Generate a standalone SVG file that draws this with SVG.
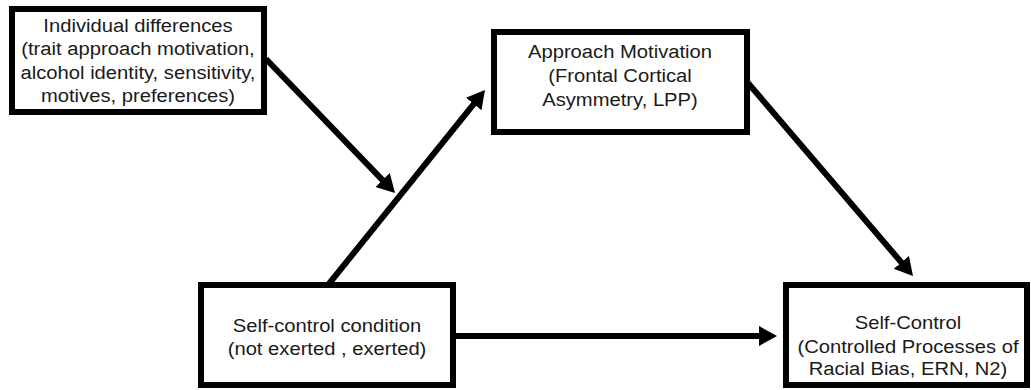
<svg xmlns="http://www.w3.org/2000/svg" width="1031" height="390" viewBox="0 0 1031 390">
  <style>
    .box { fill: #ffffff; stroke: #000000; stroke-width: 6; }
    .lbl { font-family: "Liberation Sans", Arial, sans-serif; font-size: 18.8px; fill: #1a1a1a; text-anchor: middle; }
    .conn { stroke: #000000; stroke-width: 6; fill: none; marker-end: url(#arrow); }
  </style>
  <defs>
    <marker id="arrow" markerUnits="userSpaceOnUse" markerWidth="20" markerHeight="22" refX="8" refY="10" orient="auto" viewBox="0 0 20 22">
      <path d="M0,0 L18,10 L0,20 Z" fill="#000000"/>
    </marker>
  </defs>
  <rect width="1031" height="390" fill="#ffffff"/>

  <g id="connectors">
    <line class="conn" x1="266" y1="59" x2="388.1" y2="185.8"/>
    <line class="conn" x1="328" y1="285" x2="478.7" y2="97.8"/>
    <line class="conn" x1="748" y1="83" x2="906.5" y2="268.4"/>
    <line class="conn" x1="456" y1="336" x2="767" y2="336"/>
  </g>

  <g id="node-individual-differences">
    <rect class="box" x="12" y="9" width="252" height="103"/>
    <g transform="translate(138,0) scale(1.075,1)">
      <text class="lbl" x="0" y="32">Individual differences</text>
      <text class="lbl" x="0" y="55.3">(trait approach motivation,</text>
      <text class="lbl" x="0" y="78.6">alcohol identity, sensitivity,</text>
      <text class="lbl" x="0" y="102">motives, preferences)</text>
    </g>
  </g>

  <g id="node-approach-motivation">
    <rect class="box" x="494" y="32" width="253" height="100"/>
    <g transform="translate(620,0) scale(1.075,1)">
      <text class="lbl" x="0" y="57.7">Approach Motivation</text>
      <text class="lbl" x="0" y="81.7">(Frontal Cortical</text>
      <text class="lbl" x="0" y="106">Asymmetry, LPP)</text>
    </g>
  </g>

  <g id="node-self-control-condition">
    <rect class="box" x="201" y="285" width="252" height="100"/>
    <g transform="translate(327,0) scale(1.075,1)">
      <text class="lbl" x="0" y="331.7">Self-control condition</text>
      <text class="lbl" x="0" y="355">(not exerted , exerted)</text>
    </g>
  </g>

  <g id="node-self-control">
    <rect class="box" x="786" y="285" width="241" height="100"/>
    <g transform="translate(908,0) scale(1.075,1)">
      <text class="lbl" x="0" y="329">Self-Control</text>
      <text class="lbl" x="0" y="352.7">(Controlled Processes of</text>
      <text class="lbl" x="0" y="375">Racial Bias, ERN, N2)</text>
    </g>
  </g>
</svg>
